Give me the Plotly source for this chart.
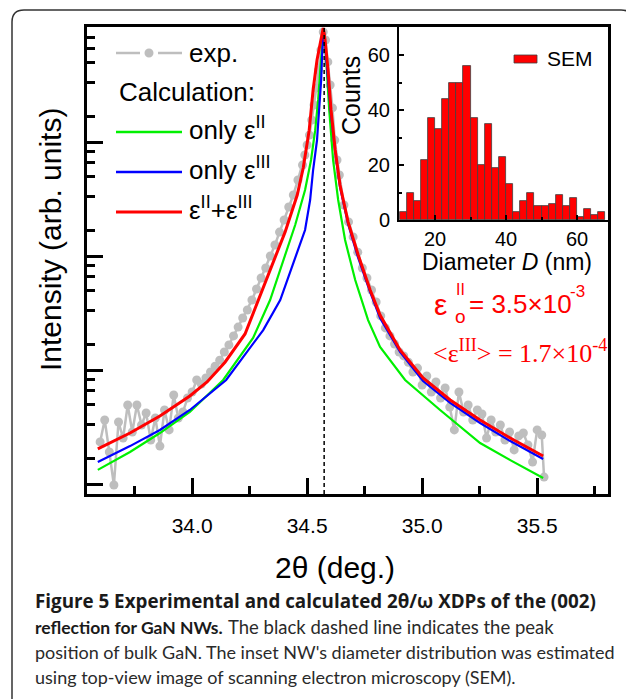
import plotly.graph_objects as go

# ---------------- data ----------------
exp_x = [33.60, 33.62, 33.64, 33.66, 33.68, 33.70, 33.72, 33.74, 33.76, 33.78, 33.80, 33.82, 33.84,
         33.86, 33.88, 33.90, 33.92, 33.94, 33.96, 33.98, 34.00, 34.02, 34.04, 34.06, 34.08, 34.10,
         34.12, 34.14, 34.16, 34.18, 34.20, 34.22, 34.24, 34.26, 34.28, 34.30, 34.32, 34.34, 34.36,
         34.38, 34.40, 34.42, 34.44, 34.46, 34.48, 34.49, 34.50, 34.51, 34.52, 34.53, 34.54, 34.55,
         34.56, 34.57, 34.58, 34.59, 34.60, 34.61, 34.62, 34.63, 34.64, 34.66, 34.68, 34.70, 34.72,
         34.74, 34.76, 34.78, 34.80, 34.82, 34.84, 34.86, 34.88, 34.90, 34.92, 34.94, 34.96, 34.98,
         35.00, 35.02, 35.04, 35.06, 35.08, 35.10, 35.12, 35.14, 35.16, 35.18, 35.20, 35.22, 35.24,
         35.26, 35.28, 35.30, 35.32, 35.34, 35.36, 35.38, 35.40, 35.42, 35.44, 35.46, 35.48, 35.50,
         35.52, 35.53]
exp_y = [2.34, 3.64, 1.91, 0.98, 3.50, 2.53, 4.93, 2.86, 4.93, 3.29, 4.20, 2.43, 3.79, 2.15, 4.46,
         2.98, 6.04, 3.79, 4.28, 5.68, 6.41,
         8.17, 7.54, 8.51, 9.60, 10.8, 12.2, 14.4, 16.6, 19.9, 23.8, 28.6, 33.6, 41.1, 51.4, 64.1,
         78.5, 100, 125, 162, 207, 269, 343, 464, 628,
         769, 941, 1150, 1560, 2110, 2980, 4280, 6410, 9230, 7850, 5040, 3160, 1990, 1040, 695, 514,
         280, 199, 147, 108, 78.5, 64.1, 50.3, 39.5, 29.8, 23.4, 19.9, 16.9, 14.4, 13.3, 11.7, 9.60,
         10.4, 7.38, 8.86, 6.41, 7.85, 5.68, 6.95, 4.73, 2.98, 6.41, 4.28, 4.93, 3.64, 4.46, 4.11,
         2.53, 3.64, 2.86, 3.29, 2.43, 2.86, 1.99, 2.64, 2.80, 2.20, 1.56, 2.98, 2.69,
         1.15]

red_x = [33.59, 33.73, 33.86, 33.99, 34.065, 34.143, 34.23, 34.317, 34.404, 34.457, 34.483, 34.509,
         34.526, 34.543, 34.557, 34.570, 34.578, 34.591, 34.604, 34.622, 34.643, 34.678, 34.722,
         34.774, 34.817, 34.904, 35.004, 35.122, 35.252, 35.383, 35.526]
red_y = [2.03, 2.80, 3.95, 5.92, 7.85, 11.7, 20.7, 56.8, 162, 343, 592, 1270, 2858, 5240, 7540,
         10000, 7850, 4280, 1910, 851, 420, 199, 102, 50.3, 30.3, 15.0, 8.51, 5.46, 3.64, 2.53, 1.76]

green_x = [33.59, 33.73, 33.86, 33.99, 34.135, 34.265, 34.339, 34.396, 34.448, 34.491, 34.517,
           34.535, 34.548, 34.557, 34.565, 34.572, 34.583, 34.596, 34.613, 34.635, 34.665, 34.709,
           34.765, 34.817, 34.926, 35.078, 35.252, 35.383, 35.526]
green_y = [1.33, 1.91, 2.80, 4.28, 8.17, 19.1, 41.1, 92, 187, 379, 695, 1270, 2340, 4280, 7100,
           10000, 5240, 1910, 695, 310, 138, 61.5, 27.4, 15.9, 8.17, 4.46, 2.29, 1.62, 1.13]

blue_x = [33.59, 33.73, 33.86, 33.99, 34.148, 34.309, 34.383, 34.439, 34.491, 34.513, 34.526,
          34.543, 34.552, 34.561, 34.565, 34.572, 34.578, 34.591, 34.604, 34.622, 34.643, 34.678,
          34.722, 34.774, 34.817, 34.904, 35.004, 35.122, 35.252, 35.383, 35.526]
blue_y = [1.56, 2.15, 2.98, 4.46, 8.17, 22.4, 41.1, 86.8, 169, 310, 568, 1040, 1910, 3500, 5800,
          10000, 7100, 3500, 1730, 817, 403, 191, 96, 48.3, 28.6, 14.4, 8.01, 5.14, 3.43, 2.38, 1.66]

bulk_peak = 34.574

sem_d = [11, 13, 15, 17, 19, 21, 23, 25, 27, 29, 31, 33, 35, 37, 39, 41, 43, 45, 47, 49, 51, 53,
         55, 57, 59, 61, 63, 65, 67]
sem_counts = [3, 10, 7, 22, 37, 33, 44, 50, 50, 56, 37, 20, 35, 19, 23, 13, 3, 7, 10, 5, 5, 6, 9,
              5, 8, 1, 4, 2, 3]

main_ticks = [34.0, 34.5, 35.0, 35.5]
main_ticktext = ["34.0", "34.5", "35.0", "35.5"]
inset_xticks = [20, 40, 60]
inset_yticks = [0, 20, 40, 60]

# ---------------- layout helpers ----------------
# reference pixel coords of the main plot frame; page body adds an 8px offset
OFF = 8
L, R, T, B = 87, 608, 27, 494
W, H = 634 - OFF, 699 - OFF


def px(x):
    return (x - L) / (R - L)


def py(y):
    return (B - y) / (B - T)


SANS = "Liberation Sans, Arial, sans-serif"
SERIF = "Liberation Serif, Times New Roman, serif"
GRAY = "#BEBEBE"
GREEN = "#00F000"
BLUE = "#0000FF"
RED = "#FF0000"

fig = go.Figure()

fig.add_trace(go.Scatter(x=exp_x, y=exp_y, mode="lines+markers",
                         line=dict(color=GRAY, width=2.5),
                         marker=dict(color=GRAY, size=9), showlegend=False))
fig.add_trace(go.Scatter(x=green_x, y=green_y, mode="lines",
                         line=dict(color=GREEN, width=2.2), showlegend=False))
fig.add_trace(go.Scatter(x=blue_x, y=blue_y, mode="lines",
                         line=dict(color=BLUE, width=2.2), showlegend=False))
fig.add_trace(go.Scatter(x=red_x, y=red_y, mode="lines",
                         line=dict(color=RED, width=3), showlegend=False))

fig.add_trace(go.Bar(x=sem_d, y=sem_counts, width=2, xaxis="x2", yaxis="y2",
                     marker=dict(color=RED, line=dict(color="#404040", width=0.8)),
                     showlegend=False))

ymin_minor = []
for dec in [1, 10, 100, 1000]:
    for k in [1, 2, 3, 4, 5]:
        ymin_minor.append(dec * 10 * k / 6)

fig.update_layout(
    width=W, height=H,
    margin=dict(l=L - OFF, r=W - (R - OFF), t=T - OFF, b=H - (B - OFF), pad=0),
    paper_bgcolor="white", plot_bgcolor="white",
    font=dict(family=SANS, color="black"),
    xaxis=dict(domain=[0, 1], range=[33.543, 35.808], tickvals=main_ticks, ticktext=main_ticktext,
               ticks="inside", ticklen=16, tickwidth=2.5, tickcolor="black",
               showline=True, linewidth=3, linecolor="black", mirror=True,
               showgrid=False, zeroline=False, tickfont=dict(size=21, family=SANS),
               ticklabelstandoff=11,
               minor=dict(tickvals=[33.75, 34.25, 34.75, 35.25, 35.75], ticks="inside",
                          ticklen=8, tickwidth=2.5, tickcolor="black", showgrid=False)),
    yaxis=dict(type="log", domain=[0, 1], range=[-0.0877, 4.0088], tickvals=[1, 10, 100, 1000],
               showticklabels=False, ticks="inside", ticklen=16, tickwidth=2.5, tickcolor="black",
               showline=True, linewidth=3, linecolor="black", mirror=True,
               showgrid=False, zeroline=False,
               minor=dict(tickvals=ymin_minor, ticks="inside", ticklen=8, tickwidth=2.5,
                          tickcolor="black", showgrid=False)),
    xaxis2=dict(domain=[px(399), 1], anchor="y2", range=[9.86, 68.73], tickvals=inset_xticks,
                ticks="inside", ticklen=5, tickwidth=1.5, tickcolor="black",
                showline=True, linewidth=2, linecolor="black", showgrid=False, zeroline=False,
                tickfont=dict(size=20, family=SANS), ticklabelstandoff=0,
                minor=dict(tickvals=[30, 50], ticks="inside", ticklen=3, tickwidth=1.5,
                           tickcolor="black", showgrid=False)),
    yaxis2=dict(domain=[py(220), 1], anchor="x2", range=[0, 70.2], tickvals=inset_yticks,
                ticks="inside", ticklen=5, tickwidth=1.5, tickcolor="black",
                showline=True, linewidth=2, linecolor="black", showgrid=False, zeroline=False,
                tickfont=dict(size=20, family=SANS), ticklabelstandoff=3,
                minor=dict(tickvals=[10, 30, 50], ticks="inside", ticklen=3, tickwidth=1.5,
                           tickcolor="black", showgrid=False)),
    bargap=0,
)

shapes = []
# rounded outer frame
xl, xr = px(12), px(633)
yt, yb = py(10), py(730)
rx, ry = 12 / (R - L), 12 / (B - T)
shapes.append(dict(type="path", xref="paper", yref="paper",
                   path=f"M {xl},{yb} L {xl},{yt - ry} Q {xl},{yt} {xl + rx},{yt} "
                        f"L {xr - rx},{yt} Q {xr},{yt} {xr},{yt - ry} L {xr},{yb}",
                   line=dict(color="#333333", width=1.5)))
# bulk GaN peak position
shapes.append(dict(type="line", xref="x", yref="paper", x0=bulk_peak, x1=bulk_peak, y0=0, y1=1,
                   line=dict(color="black", width=1.5, dash="4px,3px")))
# legend samples
shapes.append(dict(type="line", xref="paper", yref="paper", x0=px(116), x1=px(140), y0=py(53),
                   y1=py(53), line=dict(color=GRAY, width=2.5)))
shapes.append(dict(type="line", xref="paper", yref="paper", x0=px(158), x1=px(182), y0=py(53),
                   y1=py(53), line=dict(color=GRAY, width=2.5)))
shapes.append(dict(type="circle", xref="paper", yref="paper", x0=px(144.5), x1=px(153.5),
                   y0=py(57.5), y1=py(48.5), fillcolor=GRAY, line=dict(color=GRAY, width=0)))
for yy, col, w in [(132, GREEN, 2.5), (172, BLUE, 2.5), (212, RED, 3)]:
    shapes.append(dict(type="line", xref="paper", yref="paper", x0=px(116), x1=px(182),
                       y0=py(yy), y1=py(yy), line=dict(color=col, width=w)))
# inset legend box
shapes.append(dict(type="rect", xref="paper", yref="paper", x0=px(514), x1=px(537), y0=py(63),
                   y1=py(55), fillcolor=RED, line=dict(color="#404040", width=0.8)))
fig.update_layout(shapes=shapes)

ann = []


def text(x, y, s, size, xanchor="left", color="black", family=SANS, angle=0, yanchor="middle"):
    ann.append(dict(x=px(x), y=py(y), xref="paper", yref="paper", text=s, showarrow=False,
                    xanchor=xanchor, yanchor=yanchor, textangle=angle,
                    font=dict(size=size, color=color, family=family)))


# legend texts
text(187, 53, "exp.", 26)
text(117, 92, "Calculation:", 26)
text(187, 129, "only ε<sup>II</sup>", 26)
text(187, 169, "only ε<sup>III</sup>", 26)
text(187, 209, "ε<sup>II</sup>+ε<sup>III</sup>", 26)

# axis titles
text(50, 240, "Intensity (arb. units)", 30, xanchor="center", angle=-90)
text(335, 567, "2θ (deg.)", 30, xanchor="center")
text(351, 96, "Counts", 25, xanchor="center", angle=-90)
text(507, 262, "Diameter <i>D</i> (nm)", 23, xanchor="center")
text(545, 59, "SEM", 21)

# strain annotations
text(440, 304, "ε", 30, xanchor="center", color=RED)
text(460, 289, "II", 16, xanchor="center", color=RED)
text(460, 316, "o", 19, xanchor="center", color=RED)
text(467, 304, "= 3.5×10", 26, color=RED)
text(568, 291, "-3", 17, color=RED)
text(431, 351, "&lt;ε<sup>III</sup>&gt; = 1.7×10<sup>-4</sup>", 26, color=RED, family=SERIF)

# caption
CAP = "Lato, Open Sans, sans-serif"
BOLDCAP = "Open Sans, Lato, sans-serif"
text(33, 601, "<b>Figure 5 Experimental and calculated 2θ/ω XDPs of the (002)</b>", 18.8,
     family=BOLDCAP, color="#1a1a1a")
text(33, 627, "<b>reflection for GaN NWs.</b>", 17.5, family=CAP, color="#1a1a1a")
text(226, 627, "The black dashed line indicates the peak", 18.5, family=CAP, color="#2a2a2a")
text(33, 652, "position of bulk GaN. The inset NW's diameter distribution was estimated", 18,
     family=CAP, color="#2a2a2a")
text(33, 677, "using top-view image of scanning electron microscopy (SEM).", 18,
     family=CAP, color="#2a2a2a")

fig.update_layout(annotations=ann)

fig.write_html("out.html")
